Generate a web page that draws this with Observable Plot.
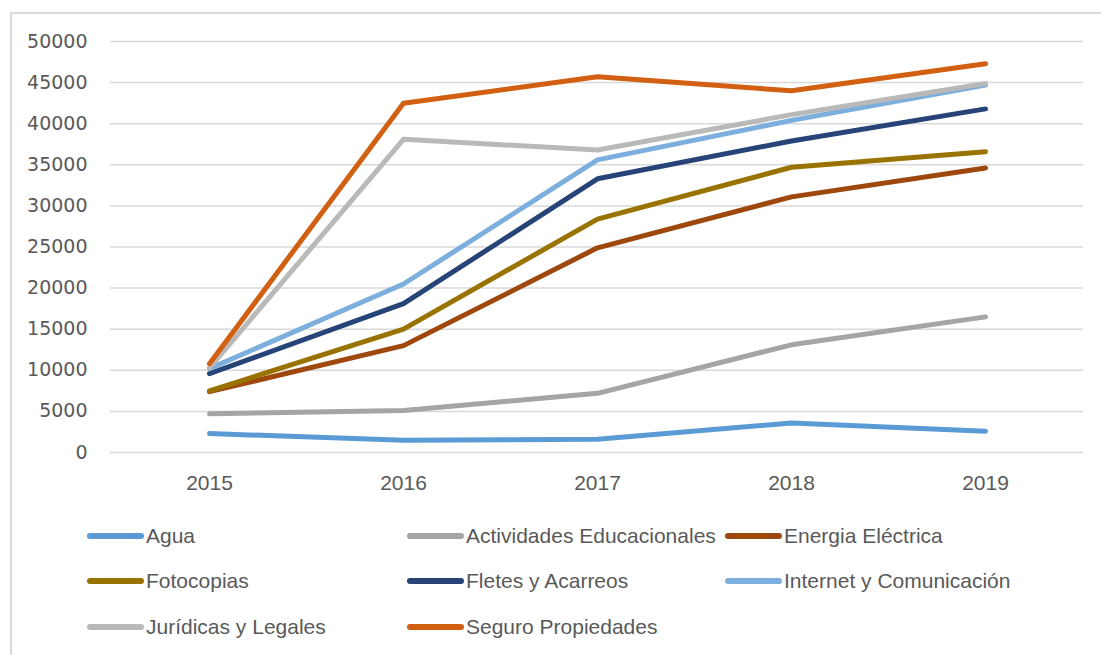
<!DOCTYPE html>
<html>
<head>
<meta charset="utf-8">
<script src="https://cdn.jsdelivr.net/npm/d3@7"></script>
<script src="https://cdn.jsdelivr.net/npm/@observablehq/plot@0.6"></script>
<style>
  html, body { margin: 0; padding: 0; background: #fff; }
  #wrap { position: relative; width: 1101px; height: 655px; overflow: hidden; }
  #frame { position: absolute; left: 10px; top: 12px; width: 1200px; height: 800px;
           border-left: 2px solid #d9d9d9; border-top: 2px solid #d9d9d9; box-sizing: border-box; }
  #chart { position: absolute; left: 0; top: 0; }
  #legend { position: absolute; left: 0; top: 0; width: 1101px; height: 655px; pointer-events: none;
            font-family: "Liberation Sans", Arial, sans-serif; font-size: 21px; color: #595959; }
  .item { position: absolute; display: flex; align-items: center; white-space: nowrap; }
  .sw { width: 57px; height: 6px; border-radius: 3px; margin-right: 2px; }
</style>
</head>
<body>
<div id="wrap">
  <div id="frame"></div>
  <div id="chart"></div>
  <div id="legend"></div>
</div>
<script>
const years = ["2015", "2016", "2017", "2018", "2019"];
const seriesNames = ["Agua", "Actividades Educacionales", "Energia Eléctrica", "Fotocopias",
  "Fletes y Acarreos", "Internet y Comunicación", "Jurídicas y Legales", "Seguro Propiedades"];
const seriesColors = ["#5B9BD5", "#A5A5A5", "#9E480E", "#997300", "#264478", "#7CAFDD", "#B9B9B9", "#D26012"];

const agua = [2300, 1500, 1600, 3600, 2600];
const actividades = [4700, 5100, 7200, 13100, 16500];
const energia = [7400, 13000, 24900, 31100, 34600];
const fotocopias = [7500, 15000, 28400, 34700, 36600];
const fletes = [9600, 18100, 33300, 37900, 41800];
const internet = [10200, 20500, 35600, 40400, 44700];
const juridicas = [10300, 38100, 36800, 41100, 44900];
const seguro = [10800, 42500, 45700, 44000, 47300];

const yTicks = [0, 5000, 10000, 15000, 20000, 25000, 30000, 35000, 40000, 45000, 50000];

const allValues = [agua, actividades, energia, fotocopias, fletes, internet, juridicas, seguro];
const data = [];
seriesNames.forEach((s, i) => {
  years.forEach((y, j) => data.push({series: s, year: y, value: allValues[i][j]}));
});

const chart = Plot.plot({
  width: 1101,
  height: 502,
  marginLeft: 110,
  marginRight: 18,
  marginTop: 41,
  marginBottom: 50,
  style: {background: "transparent", color: "#595959"},
  x: {type: "point", domain: years, padding: 0.5, label: null},
  y: {domain: [0, 50000], label: null},
  color: {domain: seriesNames, range: seriesColors},
  marks: [
    Plot.ruleY(yTicks, {stroke: "#d9d9d9", strokeWidth: 1.5}),
    Plot.axisY(yTicks, {tickSize: 0, tickPadding: 23, tickFormat: d => String(d), label: null,
      fontSize: 19, fontFamily: "DejaVu Sans", fill: "#595959"}),
    Plot.axisX({tickSize: 0, tickPadding: 23, label: null,
      fontSize: 21, fontFamily: "Liberation Sans", fill: "#595959"}),
    Plot.line(data, {x: "year", y: "value", z: "series", stroke: "series", strokeWidth: 5,
      strokeLinecap: "round", strokeLinejoin: "round"})
  ]
});
document.getElementById("chart").appendChild(chart);

const cols = [87, 407, 725];
const rows = [536, 581, 627];
const legend = document.getElementById("legend");
seriesNames.forEach((s, i) => {
  const r = Math.floor(i / 3), c = i % 3;
  const el = document.createElement("div");
  el.className = "item";
  el.style.left = cols[c] + "px";
  el.style.top = (rows[r] - 13) + "px";
  el.style.height = "26px";
  const sw = document.createElement("div");
  sw.className = "sw";
  sw.style.background = seriesColors[i];
  const tx = document.createElement("span");
  tx.textContent = s;
  el.appendChild(sw);
  el.appendChild(tx);
  legend.appendChild(el);
});
</script>
</body>
</html>
